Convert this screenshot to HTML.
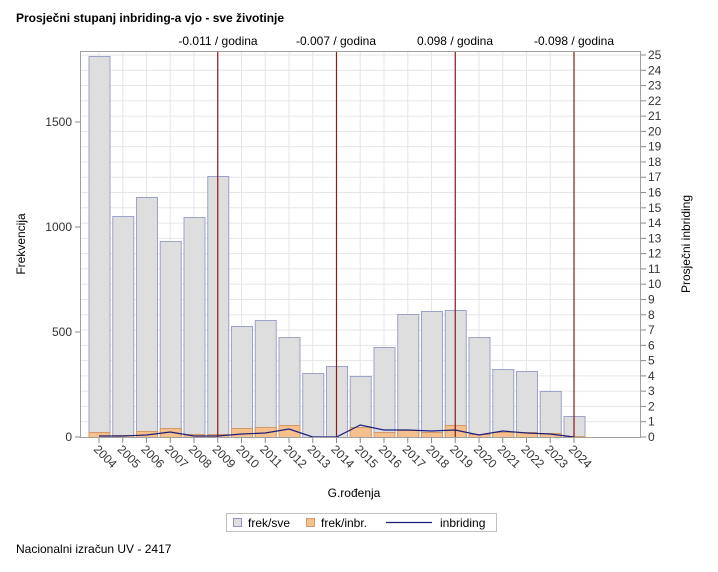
<!DOCTYPE html>
<html><head><meta charset="utf-8"><style>
body{margin:0;background:#fff;font-family:"Liberation Sans",sans-serif}
</style></head><body>
<svg width="718" height="567" xmlns="http://www.w3.org/2000/svg" font-family="Liberation Sans, sans-serif">
<rect width="718" height="567" fill="#fff"/>
<text x="16" y="22" font-size="12" font-weight="bold">Prosječni stupanj inbriding-a vjo - sve životinje</text>
<g id="grid" stroke="#e6e6e6" stroke-width="1"></g>
<g id="bars"></g>
<rect x="80.5" y="51.5" width="560" height="386" fill="none" stroke="#a0a0a0"/>
<g id="axes" font-size="12" fill="#333"></g>
<text x="354" y="497" font-size="12" text-anchor="middle">G.rođenja</text>
<text transform="translate(25,244) rotate(-90)" font-size="12" text-anchor="middle">Frekvencija</text>
<text transform="translate(690,244) rotate(-90)" font-size="12" text-anchor="middle">Prosječni inbriding</text>
<g font-size="12" text-anchor="middle">
<text x="218" y="45">-0.011 / godina</text>
<text x="336" y="45">-0.007 / godina</text>
<text x="455" y="45">0.098 / godina</text>
<text x="574" y="45">-0.098 / godina</text>
</g>
<rect x="226.5" y="513.5" width="270" height="18" fill="#fff" stroke="#c0c0c0"/>
<rect x="233.5" y="518.5" width="8" height="8" fill="#dedede" stroke="#8f94c0"/>
<text x="248" y="527" font-size="12">frek/sve</text>
<rect x="306.5" y="518.5" width="8" height="8" fill="#f5c08e" stroke="#d29a66"/>
<text x="321" y="527" font-size="12">frek/inbr.</text>
<line x1="386" y1="522.5" x2="432" y2="522.5" stroke="#1c1f7a" stroke-width="1.2"/>
<text x="440" y="527" font-size="12">inbriding</text>
<text x="16" y="553" font-size="12">Nacionalni izračun UV - 2417</text>
<script>
const ns="http://www.w3.org/2000/svg";
function el(p,t,a,txt){const e=document.createElementNS(ns,t);for(const k in a)e.setAttribute(k,a[k]);if(txt!==undefined)e.textContent=txt;p.appendChild(e);return e;}
const grid=document.getElementById('grid'),bars=document.getElementById('bars'),ax=document.getElementById('axes');
const X=i=>99+i*23.75, Y0=437;
for(let u=1;u<=25;u++){const y=Y0-u*15.28;el(grid,'line',{x1:81,x2:640,y1:y,y2:y});}
for(let i=0;i<21;i++)el(grid,'line',{x1:X(i),x2:X(i),y1:52,y2:437});
const tops=[56,216,197,241,217,176,326,320,337,373,366,376,347,314,311,310,337,369,371,391,416];
const oh=[5,2,6,9,3,3,9,10,12,0,0,10,5,7,5,12,3,5,5,4,1];
const ly=[436,436,435,432,436,436,434,433,429,437,437,425,430,430,431,430,435,431,433,434,437];
for(let i=0;i<21;i++){const x=X(i)-10.5;
el(bars,'rect',{x:x+.5,y:tops[i]+.5,width:21,height:Y0-tops[i],fill:'#dedede',stroke:'#9da2c8'});
if(oh[i])el(bars,'rect',{x:x+.5,y:Y0-oh[i]+.5,width:21,height:oh[i],fill:'#f5c08e',stroke:'#d29a66'});}
[5,10,15,20].forEach(i=>el(bars,'line',{x1:X(i),x2:X(i),y1:51,y2:437,stroke:'#8b1a1a','stroke-width':1.2}));
el(bars,'polyline',{points:ly.map((y,i)=>X(i)+','+y).join(' '),fill:'none',stroke:'#1c1f7a','stroke-width':1.2});
[0,500,1000,1500].forEach(v=>{const y=Y0-v*0.21;el(ax,'line',{x1:75,x2:80,y1:y,y2:y,stroke:'#888'});el(ax,'text',{x:72,y:y+4,'text-anchor':'end'},v);});
for(let u=0;u<=25;u++){const y=Y0-u*15.28;el(ax,'line',{x1:641,x2:646,y1:y,y2:y,stroke:'#888'});el(ax,'text',{x:648,y:y+4},u);}
for(let i=0;i<21;i++){const x=X(i);el(ax,'line',{x1:x,x2:x,y1:438,y2:443,stroke:'#888'});
el(ax,'text',{transform:`translate(${x-6},${450}) rotate(45)`},2004+i);}
</script>
</svg>
</body></html>
